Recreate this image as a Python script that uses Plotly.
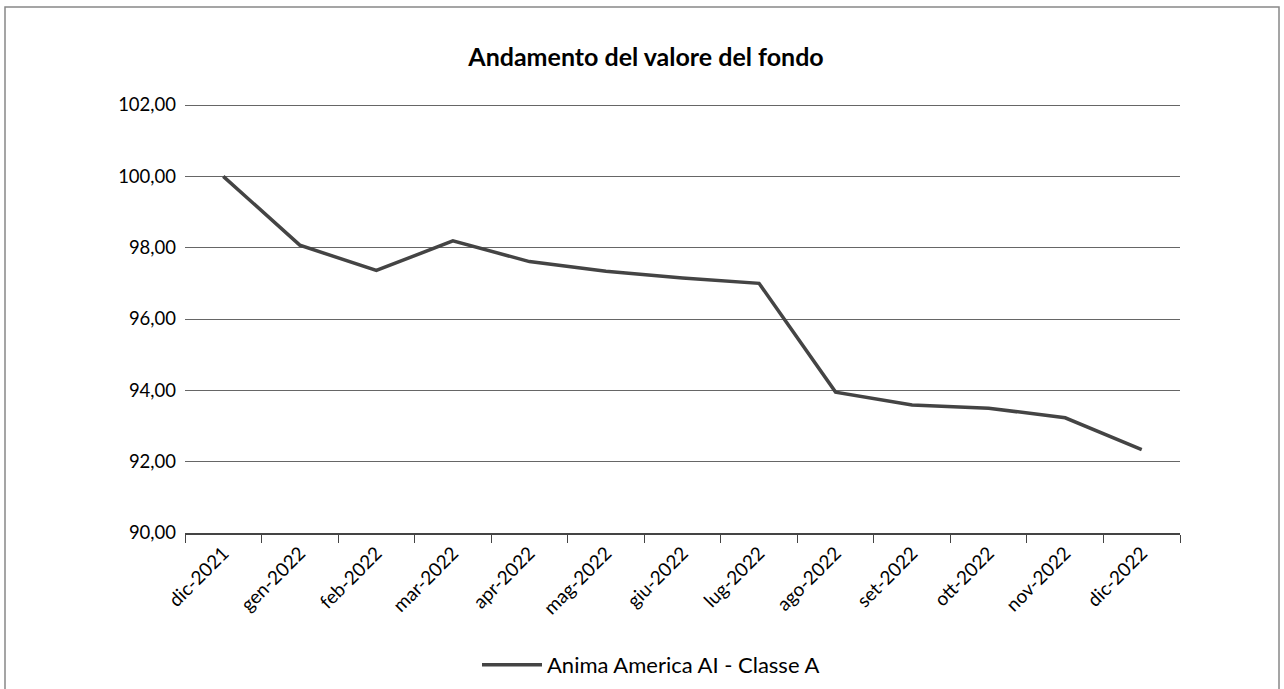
import plotly.graph_objects as go

months = ["dic-2021", "gen-2022", "feb-2022", "mar-2022", "apr-2022", "mag-2022",
          "giu-2022", "lug-2022", "ago-2022", "set-2022", "ott-2022", "nov-2022", "dic-2022"]
values = [100.00, 98.07, 97.36, 98.19, 97.61, 97.34, 97.15, 97.00, 93.95, 93.59, 93.50, 93.23, 92.34]
series_name = "Anima America AI - Classe A"
title_text = "Andamento del valore del fondo"

W, H = 1284, 689
L, R, T, B = 185, 104, 94, 156
pw, ph = W - L - R, H - T - B
px_per_unit = (533 - 105) / 12.0
ytop = 90 + ph / px_per_unit

fig = go.Figure()
fig.add_trace(go.Scatter(
    x=months, y=values, mode="lines", name=series_name,
    line=dict(color="#444444", width=3.5),
))

fig.update_layout(
    width=W, height=H,
    margin=dict(l=L, r=R, t=T, b=B, autoexpand=False),
    paper_bgcolor="white", plot_bgcolor="white",
    separators=",.",
    font=dict(family="Lato, 'Open Sans', sans-serif", size=18, color="#000000"),
    title=dict(text="<b>" + title_text + "</b>", x=(646 - L) / pw, xref="paper", xanchor="center",
               y=1 - 57 / H, yanchor="middle", font=dict(size=25, color="#000000")),
    showlegend=True,
    legend=dict(orientation="h", x=(651 - L) / pw, xanchor="center", y=-(665 - (T + ph)) / ph,
                yanchor="middle", font=dict(size=22), itemwidth=60),
    xaxis=dict(type="category", range=[-0.5, len(months) - 0.5],
               tickson="boundaries", ticks="outside", ticklen=8, tickcolor="#444444",
               showline=True, linecolor="#444444", linewidth=1.5,
               showgrid=False, tickangle=-45, tickfont=dict(size=19)),
    yaxis=dict(range=[90, ytop], tick0=90, dtick=2, tickformat=".2f",
               showgrid=True, gridcolor="#666666", gridwidth=1,
               zeroline=False, showline=False, ticks="", ticklabelstandoff=8,
               tickfont=dict(size=18.5)),
    shapes=[dict(type="rect", xref="paper", yref="paper",
                 x0=(5 - L) / pw, x1=(1279 - L) / pw,
                 y0=-(H + 20 - T - ph) / ph, y1=(T + ph - 7) / ph,
                 line=dict(color="#888888", width=1.5), fillcolor="rgba(0,0,0,0)",
                 layer="below")],
)

fig.write_html("out.html", config={"displayModeBar": False},
               post_script="document.body.style.margin='0';document.body.style.overflow='hidden';")
